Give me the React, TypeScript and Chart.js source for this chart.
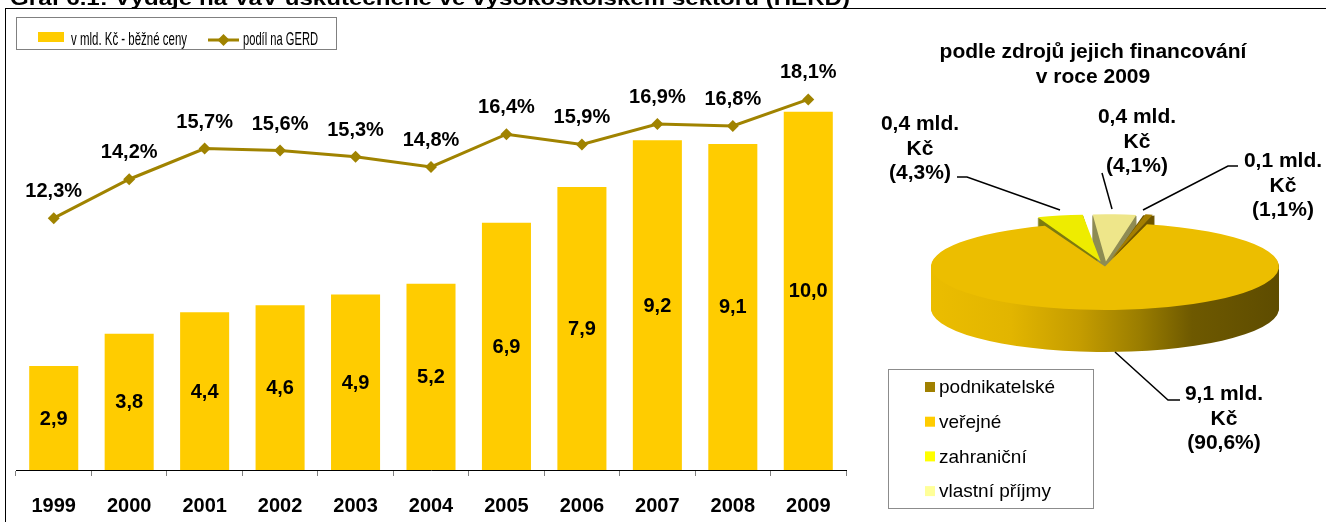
import React, { useEffect, useRef } from 'react';
import { Chart, registerables } from 'chart.js';

Chart.register(...registerables);

// ---------- data ----------
const chartTitle = 'Graf 6.1: Výdaje na VaV uskutečněné ve vysokoškolském sektoru (HERD)';
const years = ['1999', '2000', '2001', '2002', '2003', '2004', '2005', '2006', '2007', '2008', '2009'];
const expenditure = [2.9, 3.8, 4.4, 4.6, 4.9, 5.2, 6.9, 7.9, 9.2, 9.1, 10.0];
const gerdShare = [12.3, 14.2, 15.7, 15.6, 15.3, 14.8, 16.4, 15.9, 16.9, 16.8, 18.1];
const barLegend = 'v mld. Kč - běžné ceny';
const lineLegend = 'podíl na GERD';

const pieTitle = ['podle zdrojů jejich financování', 'v roce 2009'];
const pieCategories = ['podnikatelské', 'veřejné', 'zahraniční', 'vlastní příjmy'];
const pieAmounts = [0.1, 9.1, 0.4, 0.4];
const pieShares = [1.1, 90.6, 4.3, 4.1];

// ---------- styles ----------
const FONT = "'Liberation Sans', Arial, Helvetica, sans-serif";
const BAR_COLOR = '#FFCC00';
const LINE_COLOR = '#A08300';
const PIE_TOP = ['#A47E00', '#ECBE00', '#EEEC00', '#EEE68A'];
const PIE_SIDE = ['#6E5500', null, '#7D7B10', '#8F8C55'];
const PIE_LEGEND = ['#A08000', '#FFCC00', '#FFFF00', '#FFFF99'];
const PIE_OFFSET = [80, 0, 80, 80];
const TILT = 0.25;
const DEPTH = 42;

const fmt = (v: number) => v.toFixed(1).replace('.', ',');

function fittedText(ctx: CanvasRenderingContext2D, text: string, x: number, y: number, width: number, font: string) {
  ctx.save();
  ctx.font = font;
  ctx.textAlign = 'left';
  const w = ctx.measureText(text).width;
  ctx.translate(x, y);
  ctx.scale(width / w, 1);
  ctx.fillText(text, 0, 0);
  ctx.restore();
}

const leftLabels = {
  id: 'leftLabels',
  afterDatasetsDraw(chart: any) {
    const ctx = chart.ctx as CanvasRenderingContext2D;
    ctx.save();
    ctx.fillStyle = '#000';
    ctx.font = `bold 20px ${FONT}`;
    ctx.textAlign = 'center';
    const bars = chart.getDatasetMeta(1).data;
    ctx.textBaseline = 'middle';
    bars.forEach((b: any, i: number) => {
      const p = b.getProps(['x', 'y', 'base'], true);
      ctx.fillText(fmt(expenditure[i]), p.x, (p.y + p.base) / 2 + 1);
    });
    const pts = chart.getDatasetMeta(0).data;
    ctx.textBaseline = 'alphabetic';
    pts.forEach((pt: any, i: number) => {
      const p = pt.getProps(['x', 'y'], true);
      ctx.fillText(fmt(gerdShare[i]) + '%', p.x, p.y - 21);
    });
    ctx.restore();
  },
  afterDraw(chart: any) {
    const ctx = chart.ctx as CanvasRenderingContext2D;
    ctx.save();
    ctx.fillStyle = '#000';
    ctx.textBaseline = 'alphabetic';
    fittedText(ctx, chartTitle, 10, 5, 840, `bold 21px ${FONT}`);
    // legend box
    ctx.fillStyle = '#fff';
    ctx.fillRect(16, 17, 320, 32);
    ctx.strokeStyle = '#808080';
    ctx.lineWidth = 1;
    ctx.strokeRect(16.5, 17.5, 320, 32);
    ctx.fillStyle = BAR_COLOR;
    ctx.fillRect(38, 32, 26, 10);
    ctx.fillStyle = '#000';
    fittedText(ctx, barLegend, 71, 45, 116, `19px ${FONT}`);
    ctx.strokeStyle = LINE_COLOR;
    ctx.lineWidth = 3;
    ctx.beginPath();
    ctx.moveTo(208, 40);
    ctx.lineTo(239, 40);
    ctx.stroke();
    ctx.fillStyle = LINE_COLOR;
    ctx.beginPath();
    ctx.moveTo(223.5, 34);
    ctx.lineTo(229.5, 40);
    ctx.lineTo(223.5, 46);
    ctx.lineTo(217.5, 40);
    ctx.closePath();
    ctx.fill();
    ctx.fillStyle = '#000';
    fittedText(ctx, lineLegend, 243, 45, 75, `19px ${FONT}`);
    ctx.restore();
  },
};

function arcGeom(arc: any) {
  const p = arc.getProps(['x', 'y', 'startAngle', 'endAngle', 'outerRadius', 'circumference'], true);
  const off = (arc.options.offset || 0) / 4;
  const fix = 1 - Math.sin(Math.min(Math.PI, p.circumference || 0));
  const t = off * (1 + fix);
  const mid = (p.startAngle + p.endAngle) / 2;
  return { ...p, ox: p.x + Math.cos(mid) * t, oy: p.y + Math.sin(mid) * t };
}

const pie3d = {
  id: 'pie3d',
  beforeDatasetsDraw(chart: any) {
    const ctx = chart.ctx as CanvasRenderingContext2D;
    const arcs = chart.getDatasetMeta(0).data;
    if (!arcs.length) return;
    const cx = arcs[0].x;
    const cy = arcs[0].y;
    const r = arcs[0].outerRadius;
    const grad = ctx.createLinearGradient(cx - r, 0, cx + r, 0);
    grad.addColorStop(0, '#EBBD00');
    grad.addColorStop(0.23, '#E2B500');
    grad.addColorStop(0.43, '#C49C00');
    grad.addColorStop(0.6, '#9A7D00');
    grad.addColorStop(0.75, '#6E5900');
    grad.addColorStop(1, '#5E4C00');
    const geoms = arcs.map(arcGeom);
    for (let d = DEPTH; d >= 1; d--) {
      geoms.forEach((g: any, i: number) => {
        ctx.save();
        ctx.translate(0, d);
        ctx.translate(cx, cy);
        ctx.scale(1, TILT);
        ctx.translate(-cx, -cy);
        ctx.beginPath();
        ctx.moveTo(g.ox, g.oy);
        ctx.arc(g.ox, g.oy, g.outerRadius, g.startAngle, g.endAngle);
        ctx.closePath();
        ctx.restore();
        ctx.fillStyle = (PIE_SIDE[i] as any) || grad;
        ctx.fill();
      });
    }
    ctx.save();
    ctx.translate(cx, cy);
    ctx.scale(1, TILT);
    ctx.translate(-cx, -cy);
  },
  afterDatasetsDraw(chart: any) {
    chart.ctx.restore();
  },
  afterDraw(chart: any) {
    const ctx = chart.ctx as CanvasRenderingContext2D;
    ctx.save();
    ctx.fillStyle = '#000';
    ctx.textAlign = 'center';
    ctx.textBaseline = 'alphabetic';
    ctx.font = `bold 21px ${FONT}`;
    ctx.fillText(pieTitle[0], 1093, 58);
    ctx.fillText(pieTitle[1], 1093, 83);

    // leader lines & labels (index order = pieCategories)
    const leaders = [
      [[1238, 166], [1228, 166], [1143, 210]],
      [[1115, 352], [1168, 400], [1180, 400]],
      [[957, 177], [967, 177], [1060, 210]],
      [[1102, 173], [1112, 209]],
    ];
    const anchors = [[1283, 167], [1224, 400], [920, 130], [1137, 123]];
    ctx.strokeStyle = '#000';
    ctx.lineWidth = 1.5;
    leaders.forEach((pts) => {
      ctx.beginPath();
      pts.forEach(([x, y], j) => (j ? ctx.lineTo(x, y) : ctx.moveTo(x, y)));
      ctx.stroke();
    });
    pieShares.forEach((s, i) => {
      const [x, y] = anchors[i];
      ctx.fillText(`${fmt(pieAmounts[i])} mld.`, x, y);
      ctx.fillText('Kč', x, y + 24.5);
      ctx.fillText(`(${fmt(s)}%)`, x, y + 49);
    });

    // legend
    ctx.fillStyle = '#fff';
    ctx.fillRect(888, 369, 205, 139);
    ctx.strokeStyle = '#8c8c8c';
    ctx.lineWidth = 1;
    ctx.strokeRect(888.5, 369.5, 205, 139);
    ctx.font = `19px ${FONT}`;
    ctx.textAlign = 'left';
    ctx.textBaseline = 'middle';
    pieCategories.forEach((c, i) => {
      const y = 387 + i * 34.7;
      ctx.fillStyle = PIE_LEGEND[i];
      ctx.fillRect(925, y - 5, 10, 10);
      ctx.fillStyle = '#000';
      ctx.fillText(c, 939, y + 1);
    });
    ctx.restore();
  },
};

export default function App() {
  const leftRef = useRef<HTMLCanvasElement>(null);
  const pieRef = useRef<HTMLCanvasElement>(null);

  useEffect(() => {
    const left = new Chart(leftRef.current as HTMLCanvasElement, {
      type: 'bar',
      data: {
        labels: years,
        datasets: [
          {
            type: 'line',
            label: lineLegend,
            data: gerdShare,
            yAxisID: 'y2',
            borderColor: LINE_COLOR,
            backgroundColor: LINE_COLOR,
            borderWidth: 3,
            pointStyle: 'rectRot',
            pointRadius: 6,
            pointBackgroundColor: LINE_COLOR,
            pointBorderColor: LINE_COLOR,
            pointBorderWidth: 0,
            tension: 0,
            order: 0,
          } as any,
          {
            type: 'bar',
            label: barLegend,
            data: expenditure,
            yAxisID: 'y',
            backgroundColor: BAR_COLOR,
            borderWidth: 0,
            barPercentage: 0.65,
            categoryPercentage: 1,
            order: 1,
          } as any,
        ],
      },
      options: {
        responsive: false,
        animation: false,
        events: [],
        layout: { padding: { left: 16, right: 34, top: 40, bottom: 0 } },
        plugins: { legend: { display: false }, tooltip: { enabled: false }, title: { display: false } },
        scales: {
          x: {
            grid: { offset: true, drawOnChartArea: false, drawTicks: true, tickLength: 6, color: '#808080' },
            border: { display: true, color: '#000', width: 1 },
            ticks: { font: { family: FONT, size: 20, weight: 'bold' }, color: '#000', padding: 18, maxRotation: 0 },
            afterFit: (s: any) => {
              s.height = 52;
            },
          },
          y: { display: false, min: 0, max: 12 },
          y2: { display: false, min: 0, max: 21, position: 'right' },
        },
      } as any,
      plugins: [leftLabels],
    });

    const pie = new Chart(pieRef.current as HTMLCanvasElement, {
      type: 'pie',
      data: {
        labels: pieCategories,
        datasets: [
          {
            data: pieShares,
            backgroundColor: PIE_TOP,
            borderWidth: 0,
            offset: PIE_OFFSET,
            clip: false,
          } as any,
        ],
      },
      options: {
        responsive: false,
        animation: false,
        events: [],
        radius: 174,
        rotation: 10,
        layout: { padding: { left: 884, top: 11, right: 0, bottom: 0 } },
        plugins: { legend: { display: false }, tooltip: { enabled: false } },
      } as any,
      plugins: [pie3d],
    });

    return () => {
      left.destroy();
      pie.destroy();
    };
  }, []);

  return (
    <div style={{ position: 'fixed', left: 0, top: 0, width: 1326, height: 522, background: '#fff', overflow: 'hidden' }}>
      <canvas ref={leftRef} width={880} height={522} style={{ position: 'absolute', left: 0, top: 0, width: 880, height: 522 }} />
      <canvas ref={pieRef} width={1326} height={522} style={{ position: 'absolute', left: 0, top: 0, width: 1326, height: 522 }} />
      <div
        style={{
          position: 'absolute',
          left: 5,
          top: 8,
          right: -10,
          bottom: -10,
          borderLeft: '1px solid #000',
          borderTop: '1px solid #000',
          pointerEvents: 'none',
        }}
      />
    </div>
  );
}
